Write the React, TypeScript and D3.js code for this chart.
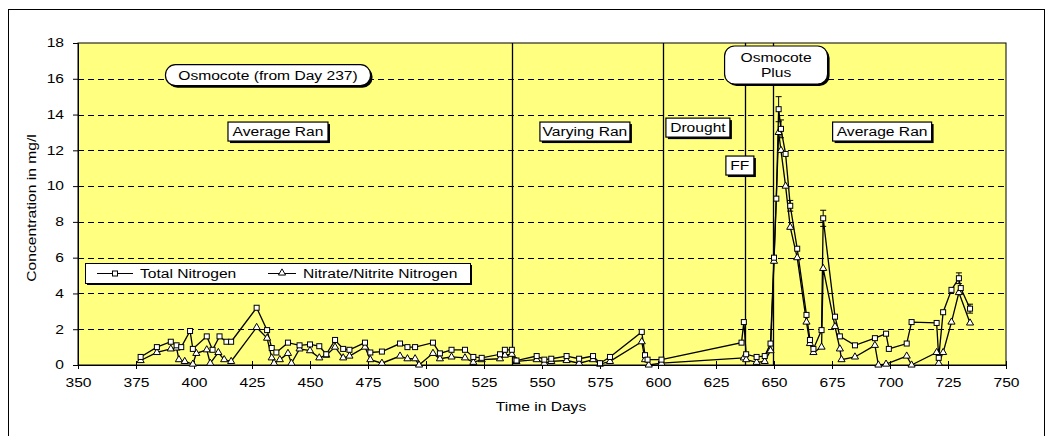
import React, { useEffect, useRef } from 'react';
import * as d3 from 'd3';

// Total Nitrogen (mg/l) by day
const tnDays = [377, 384, 390, 392.5, 394.5, 398.3, 399.5, 405.5, 408, 411, 414, 416, 427, 431.5, 433.5, 435.5, 440.5, 445.5, 450, 454, 457, 460.8, 464.3, 467, 473.7, 476, 481, 488.8, 492, 495.3, 503, 506, 511, 516.8, 520.4, 524, 531.9, 534, 537, 539, 547.7, 551, 554, 560.6, 566, 572, 575, 579.3, 593, 594.4, 595.5, 601.5, 636, 637, 638, 642.5, 646, 648.5, 650, 651, 652, 653, 655, 657, 660, 664, 665.5, 667, 670.5, 671.2, 676.3, 678.4, 684.9, 693.5, 698.3, 699.5, 707.2, 709.3, 720.1, 721, 722.9, 726.5, 729.7, 730.5, 734.5];
const tnValues = [0.45, 1.0, 1.3, 1.1, 1.0, 1.9, 0.9, 1.6, 0.85, 1.6, 1.3, 1.3, 3.2, 1.95, 0.95, 0.7, 1.25, 1.1, 1.15, 1.05, 0.6, 1.4, 0.9, 0.85, 1.25, 0.7, 0.75, 1.2, 1.0, 1.0, 1.25, 0.65, 0.85, 0.85, 0.45, 0.4, 0.6, 0.85, 0.85, 0.25, 0.5, 0.3, 0.35, 0.5, 0.35, 0.5, 0.1, 0.45, 1.85, 0.55, 0.3, 0.3, 1.25, 2.4, 0.6, 0.45, 0.5, 1.2, 6.0, 9.3, 14.3, 13.2, 11.8, 8.9, 6.5, 2.8, 1.4, 0.9, 1.95, 8.2, 2.7, 1.6, 1.1, 1.5, 1.75, 0.9, 1.2, 2.4, 2.35, 0.4, 2.95, 4.2, 4.85, 4.3, 3.15];

// Nitrate/Nitrite Nitrogen (mg/l) by day
const nnDays = [377, 384, 390, 392.5, 393.5, 396, 399.5, 401, 405.5, 407, 410.5, 413, 416, 427, 431.5, 433.5, 434.5, 437, 440.5, 442, 445.5, 450, 454, 457, 460.8, 464.3, 467, 473.7, 476, 481, 488.8, 492, 495.3, 497, 503, 506, 511, 516.8, 520.4, 524, 531.9, 534, 537, 539, 547.7, 551, 554, 560.6, 566, 572, 575, 579.3, 593, 594.4, 596, 601.5, 637, 638, 642.5, 646, 648.5, 650, 652, 653, 655, 657, 660, 664, 665.5, 667, 670.5, 671.2, 676.3, 678.4, 679.1, 684.9, 693.5, 695, 698.3, 707.2, 709.3, 720.1, 721, 722.9, 726.5, 729.7, 734.5];
const nnValues = [0.25, 0.7, 0.9, 0.95, 0.3, 0.2, 0.05, 0.65, 0.85, 0.1, 0.7, 0.3, 0.2, 2.1, 1.5, 0.4, 0.1, 0.3, 0.65, 0.1, 0.9, 0.8, 0.4, 0.55, 1.0, 0.4, 0.5, 1.0, 0.3, 0.1, 0.5, 0.35, 0.35, 0.0, 0.65, 0.35, 0.45, 0.4, 0.15, 0.3, 0.35, 0.55, 0.6, 0.2, 0.3, 0.1, 0.2, 0.25, 0.1, 0.3, 0.05, 0.2, 1.3, 0.3, 0.0, 0.1, 0.4, 0.3, 0.15, 0.2, 0.8, 5.8, 13.0, 12.0, 10.0, 7.7, 6.0, 2.4, 1.2, 0.7, 1.0, 5.4, 2.15, 0.9, 0.3, 0.45, 1.1, 0.0, 0.05, 0.5, 0.0, 0.7, 0.1, 0.7, 2.4, 4.05, 2.35];

// error bars on total nitrogen
const errDays = [652, 653, 657, 671.2, 729.7, 734.5];
const errSizes = [0.7, 0.5, 0.3, 0.45, 0.3, 0.25];

// vertical event lines (days)
const eventDays = [537, 602, 637.5, 649.5];

const xTicks = [350, 375, 400, 425, 450, 475, 500, 525, 550, 575, 600, 625, 650, 675, 700, 725, 750];
const yTicks = [0, 2, 4, 6, 8, 10, 12, 14, 16, 18];

const FONT = '"Liberation Sans", Arial, sans-serif';

const App = () => {
    const svgRef = useRef(null);

    useEffect(() => {
        const svg = d3.select(svgRef.current);
        svg.selectAll('*').remove();

        const x = d3.scaleLinear().domain([350, 750]).range([78, 1006]);
        const y = d3.scaleLinear().domain([0, 18]).range([365, 43]);

        svg.append('rect').attr('width', 1050).attr('height', 436).attr('fill', '#fff');
        svg.append('rect').attr('x', 8.5).attr('y', 9.5).attr('width', 1036).attr('height', 440)
            .attr('fill', 'none').attr('stroke', '#000');

        // plot area
        svg.append('rect')
            .attr('x', x(350)).attr('y', y(18))
            .attr('width', x(750) - x(350)).attr('height', y(0) - y(18))
            .attr('fill', '#FFFF80').attr('stroke', '#000');

        // dashed gridlines
        svg.append('g').selectAll('line')
            .data(yTicks.filter(v => v > 0 && v < 18))
            .enter().append('line')
            .attr('x1', x(350)).attr('x2', x(750))
            .attr('y1', d => Math.round(y(d)) + 0.5).attr('y2', d => Math.round(y(d)) + 0.5)
            .attr('stroke', '#000').attr('stroke-dasharray', '6,4');

        // event lines
        svg.append('g').selectAll('line')
            .data(eventDays)
            .enter().append('line')
            .attr('x1', d => Math.round(x(d)) + 0.5).attr('x2', d => Math.round(x(d)) + 0.5)
            .attr('y1', y(18)).attr('y2', y(0))
            .attr('stroke', '#000').attr('stroke-width', 1.3);

        // axes
        const yAxis = svg.append('g').attr('transform', `translate(${x(350)},0)`)
            .call(d3.axisLeft(y).tickValues(yTicks).tickSize(5).tickPadding(9).tickFormat(d3.format('d')));
        const xAxis = svg.append('g').attr('transform', `translate(0,${y(0)})`)
            .call(d3.axisBottom(x).tickValues(xTicks).tickSize(4).tickPadding(9).tickFormat(d3.format('d')));
        [yAxis, xAxis].forEach(a => {
            a.select('.domain').attr('stroke', '#000');
            a.selectAll('line').attr('stroke', '#000');
            a.selectAll('text').attr('font-family', FONT).attr('font-size', 12).attr('fill', '#000').attr('class', 'stretch');
        });
        xAxis.selectAll('.tick line').attr('y1', -4).attr('y2', 4);

        // series
        const tn = tnDays.map((d, i) => [d, tnValues[i]]);
        const nn = nnDays.map((d, i) => [d, nnValues[i]]);
        const line = d3.line().x(d => x(d[0])).y(d => y(d[1]));

        // error bars
        const eb = svg.append('g');
        errDays.forEach((d, i) => {
            const v = tnValues[tnDays.indexOf(d)];
            const cx = x(d);
            eb.append('line').attr('x1', cx).attr('x2', cx).attr('y1', y(v - errSizes[i])).attr('y2', y(v + errSizes[i])).attr('stroke', '#000');
            [v - errSizes[i], v + errSizes[i]].forEach(e => {
                eb.append('line').attr('x1', cx - 3).attr('x2', cx + 3).attr('y1', y(e)).attr('y2', y(e)).attr('stroke', '#000');
            });
        });

        svg.append('path').datum(nn).attr('d', line).attr('fill', 'none').attr('stroke', '#000').attr('stroke-width', 1.3);
        svg.append('path').datum(tn).attr('d', line).attr('fill', 'none').attr('stroke', '#000').attr('stroke-width', 1.3);

        const tri = d3.symbol().type(d3.symbolTriangle).size(22);
        svg.append('g').selectAll('path')
            .data(nn).enter().append('path')
            .attr('d', tri)
            .attr('transform', d => `translate(${x(d[0])},${y(d[1])})`)
            .attr('fill', '#fff').attr('stroke', '#000').attr('stroke-width', 1);
        svg.append('g').selectAll('rect')
            .data(tn).enter().append('rect')
            .attr('x', d => x(d[0]) - 2.5).attr('y', d => y(d[1]) - 2.5)
            .attr('width', 5).attr('height', 5)
            .attr('fill', '#fff').attr('stroke', '#000').attr('stroke-width', 1);

        // text boxes
        const box = (cx, cy, w, h, lines, rx) => {
            const g = svg.append('g');
            g.append('rect').attr('x', cx - w / 2 + 2).attr('y', cy - h / 2 + 2).attr('width', w).attr('height', h)
                .attr('rx', rx).attr('fill', '#000');
            g.append('rect').attr('x', cx - w / 2).attr('y', cy - h / 2).attr('width', w).attr('height', h)
                .attr('rx', rx).attr('fill', '#fff').attr('stroke', '#000').attr('stroke-width', 1.2);
            lines.forEach((t, i) => {
                g.append('text').attr('class', 'stretch')
                    .attr('x', cx).attr('y', cy + (i - (lines.length - 1) / 2) * 15 + 4.5)
                    .attr('text-anchor', 'middle').attr('font-family', FONT).attr('font-size', 12)
                    .text(t);
            });
        };
        box(x(431.9), y(16.2), 205, 21, ['Osmocote (from Day 237)'], 10);
        box(x(436.2), y(13.05), 100, 19, ['Average Ran'], 0);
        box(x(568.5), y(13.05), 90, 19, ['Varying Ran'], 0);
        box(x(617.2), y(13.27), 64, 19, ['Drought'], 0);
        box(x(635.3), y(11.15), 28, 19, ['FF'], 0);
        box(x(650.9), y(16.77), 103, 38, ['Osmocote', 'Plus'], 10);
        box(x(696.6), y(13.05), 99, 19, ['Average Ran'], 0);

        // legend
        const lg = svg.append('g');
        lg.append('rect').attr('x', 87).attr('y', 265).attr('width', 385).attr('height', 20).attr('fill', '#000');
        lg.append('rect').attr('x', 85.5).attr('y', 263.5).attr('width', 385).attr('height', 20)
            .attr('fill', '#fff').attr('stroke', '#000');
        lg.append('line').attr('x1', 97).attr('x2', 133).attr('y1', 273.5).attr('y2', 273.5).attr('stroke', '#000');
        lg.append('rect').attr('x', 112.5).attr('y', 271).attr('width', 5).attr('height', 5).attr('fill', '#fff').attr('stroke', '#000');
        lg.append('text').attr('class', 'stretch').attr('x', 140).attr('y', 278).attr('font-family', FONT).attr('font-size', 12).text('Total Nitrogen');
        lg.append('line').attr('x1', 268).attr('x2', 296).attr('y1', 273.5).attr('y2', 273.5).attr('stroke', '#000');
        lg.append('path').attr('d', tri).attr('transform', 'translate(282,273)').attr('fill', '#fff').attr('stroke', '#000');
        lg.append('text').attr('class', 'stretch').attr('x', 303).attr('y', 278).attr('font-family', FONT).attr('font-size', 12).text('Nitrate/Nitrite Nitrogen');

        // axis titles
        svg.append('text').attr('class', 'stretch').attr('x', 541).attr('y', 411).attr('text-anchor', 'middle')
            .attr('font-family', FONT).attr('font-size', 12).text('Time in Days');
        svg.append('text').attr('class', 'stretch').attr('transform', 'translate(36,208) rotate(-90)').attr('text-anchor', 'middle')
            .attr('font-family', FONT).attr('font-size', 12).text('Concentration in mg/l');

        // widen glyphs like the source rendering
        svg.selectAll('text.stretch').each(function () {
            const len = this.getComputedTextLength();
            d3.select(this).attr('textLength', len * 1.3).attr('lengthAdjust', 'spacingAndGlyphs');
        });
    }, []);

    return (
        <svg ref={svgRef} width={1050} height={436} style={{ position: 'absolute', left: 0, top: 0 }}></svg>
    );
};

export default App;
